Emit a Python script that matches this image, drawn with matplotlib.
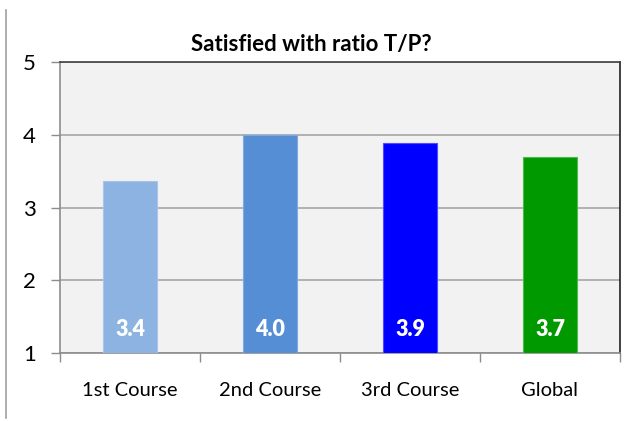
import matplotlib
matplotlib.use("Agg")
import matplotlib.pyplot as plt
from matplotlib.lines import Line2D

categories = ["1st Course", "2nd Course", "3rd Course", "Global"]
scores = [3.36, 4.0, 3.88, 3.69]
score_labels = ["3.4", "4.0", "3.9", "3.7"]
bar_colors = ["#8DB3E2", "#558ED5", "#0000FF", "#009900"]
edge_colors = ["#A9C5EA", "#7FA9E0", "#4D4DFF", "#4DB84D"]
y_ticks = [1, 2, 3, 4, 5]

plt.rcParams["font.family"] = ["Lato", "DejaVu Sans"]

fig = plt.figure(figsize=(6.41, 4.21), dpi=100)
ax = fig.add_axes([60 / 641, 1 - 353 / 421, 560 / 641, 291 / 421])
ax.set_facecolor("#F2F2F2")

x = range(len(categories))
ax.bar(x, [s - 1 for s in scores], bottom=1, width=0.39,
       color=bar_colors, edgecolor=edge_colors, linewidth=0.8, zorder=3)

for xi, s, lab in zip(x, scores, score_labels):
    ax.text(xi, 1.32, lab, ha="center", va="center", color="white",
            fontsize=15.5, fontweight="heavy", zorder=4)

ax.set_xlim(-0.5, len(categories) - 0.5)
ax.set_ylim(1, 5)
ax.set_yticks(y_ticks)
ax.set_yticklabels([str(t) for t in y_ticks], fontsize=16)
ax.yaxis.grid(True, color="#A6A6A6", linewidth=1.2, zorder=1)

ax.set_xticks(list(x))
ax.set_xticklabels(categories, fontsize=14.5)
ax.tick_params(axis="x", length=0, pad=21)
ax.set_xticks([i - 0.5 for i in range(len(categories) + 1)], minor=True)
ax.tick_params(axis="x", which="minor", length=6.5, color="#8C8C8C", width=1)
ax.tick_params(axis="y", length=6.5, color="#8C8C8C", width=1, pad=11)

ax.spines["left"].set_color("#8C8C8C")
ax.spines["bottom"].set_color("#8C8C8C")
ax.spines["top"].set_color("#404040")
ax.spines["right"].set_color("#202020")
for sp in ax.spines.values():
    sp.set_linewidth(1.2)

fig.text(311 / 641, 1 - 44 / 421, "Satisfied with ratio T/P?", ha="center",
         va="center", fontsize=16, fontweight="bold")

fig.add_artist(Line2D([6 / 641, 6 / 641], [1 - 10 / 421, 1 - 418 / 421],
                      color="#A0A0A0", linewidth=1.2))

fig.savefig("out.png", dpi=100)
